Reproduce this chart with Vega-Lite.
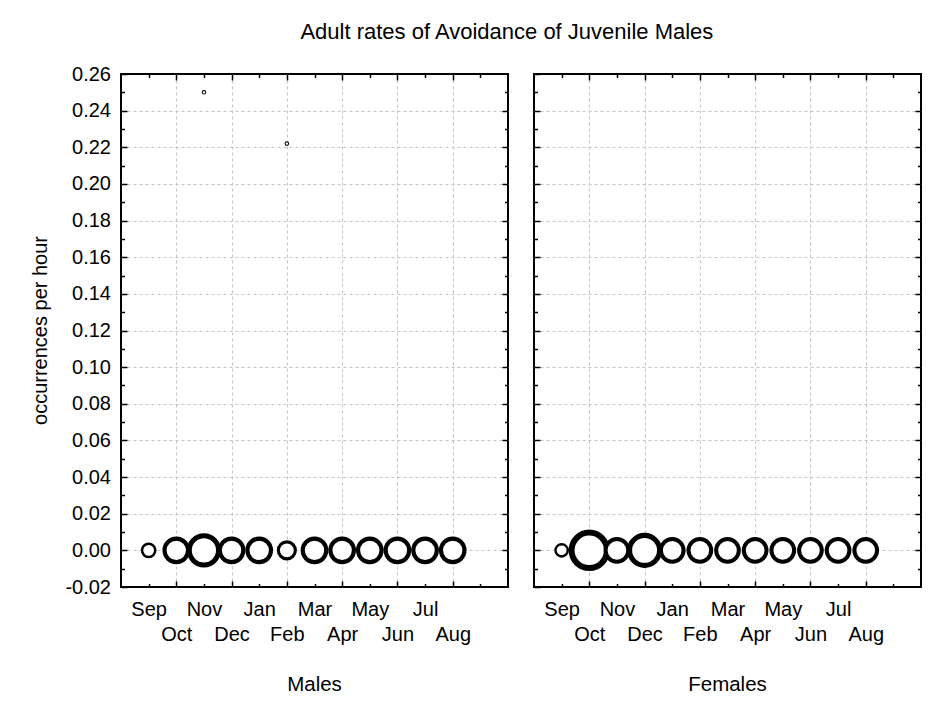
{
  "$schema": "https://vega.github.io/schema/vega-lite/v6.json",
  "background": "white",
  "padding": {"left": 29, "top": 21, "right": 10, "bottom": 5},
  "title": {
    "text": "Adult rates of Avoidance of Juvenile Males",
    "fontSize": 22,
    "fontWeight": "normal",
    "font": "Liberation Sans",
    "color": "black",
    "anchor": "middle",
    "frame": "bounds",
    "dx": 31,
    "offset": 19
  },
  "config": {
    "font": "Liberation Sans",
    "view": {"stroke": "black", "strokeWidth": 2},
    "axis": {
      "domain": false,
      "tickColor": "black",
      "tickWidth": 1.5,
      "labelFont": "Liberation Sans",
      "labelFontSize": 20,
      "labelColor": "black",
      "titleFont": "Liberation Sans",
      "titleFontSize": 20,
      "titleFontWeight": "normal",
      "titleColor": "black",
      "gridColor": "#c4c4c4",
      "gridDash": [3, 3],
      "gridWidth": 1
    },
    "title": {"font": "Liberation Sans", "fontSize": 20.5, "fontWeight": "normal", "color": "black"}
  },
  "data": {
    "values": [
      {"sex": "Males", "month": "Sep", "idx": 1, "rate": 0, "n": 14},
      {"sex": "Males", "month": "Oct", "idx": 2, "rate": 0, "n": 44},
      {"sex": "Males", "month": "Nov", "idx": 3, "rate": 0, "n": 68},
      {"sex": "Males", "month": "Dec", "idx": 4, "rate": 0, "n": 44},
      {"sex": "Males", "month": "Jan", "idx": 5, "rate": 0, "n": 44},
      {"sex": "Males", "month": "Feb", "idx": 6, "rate": 0, "n": 23},
      {"sex": "Males", "month": "Mar", "idx": 7, "rate": 0, "n": 44},
      {"sex": "Males", "month": "Apr", "idx": 8, "rate": 0, "n": 44},
      {"sex": "Males", "month": "May", "idx": 9, "rate": 0, "n": 44},
      {"sex": "Males", "month": "Jun", "idx": 10, "rate": 0, "n": 44},
      {"sex": "Males", "month": "Jul", "idx": 11, "rate": 0, "n": 44},
      {"sex": "Males", "month": "Aug", "idx": 12, "rate": 0, "n": 44},
      {"sex": "Males", "month": "Nov", "idx": 3, "rate": 0.25, "n": 1},
      {"sex": "Males", "month": "Feb", "idx": 6, "rate": 0.222, "n": 1},
      {"sex": "Females", "month": "Sep", "idx": 1, "rate": 0, "n": 12},
      {"sex": "Females", "month": "Oct", "idx": 2, "rate": 0, "n": 100},
      {"sex": "Females", "month": "Nov", "idx": 3, "rate": 0, "n": 41},
      {"sex": "Females", "month": "Dec", "idx": 4, "rate": 0, "n": 72},
      {"sex": "Females", "month": "Jan", "idx": 5, "rate": 0, "n": 41},
      {"sex": "Females", "month": "Feb", "idx": 6, "rate": 0, "n": 41},
      {"sex": "Females", "month": "Mar", "idx": 7, "rate": 0, "n": 41},
      {"sex": "Females", "month": "Apr", "idx": 8, "rate": 0, "n": 41},
      {"sex": "Females", "month": "May", "idx": 9, "rate": 0, "n": 41},
      {"sex": "Females", "month": "Jun", "idx": 10, "rate": 0, "n": 41},
      {"sex": "Females", "month": "Jul", "idx": 11, "rate": 0, "n": 41},
      {"sex": "Females", "month": "Aug", "idx": 12, "rate": 0, "n": 41}
    ]
  },
  "spacing": 26,
  "bounds": "flush",
  "hconcat": [
    {
      "width": 387,
      "height": 513,
      "title": {"text": "Males", "orient": "bottom", "offset": 30},
      "transform": [{"filter": "datum.sex === 'Males'"}],
      "resolve": {"axis": {"x": "independent", "y": "independent"}},
      "layer": [
        {
          "mark": {"type": "point", "shape": "circle", "filled": false, "fill": "white", "fillOpacity": 1, "stroke": "black", "opacity": 1},
          "encoding": {
            "x": {"field": "idx", "type": "quantitative", "scale": {"domain": [0, 14], "nice": false, "zero": false},
              "axis": {"orient": "bottom", "values": [2, 4, 6, 8, 10, 12], "grid": true, "tickSize": -6, "labelPadding": 43.5, "title": null,
                "labelExpr": "['','Sep','Oct','Nov','Dec','Jan','Feb','Mar','Apr','May','Jun','Jul','Aug',''][datum.value]"}},
            "y": {"field": "rate", "type": "quantitative", "scale": {"domain": [-0.02, 0.26], "nice": false, "zero": false},
              "axis": {"orient": "left", "values": [-0.02, 0, 0.02, 0.04, 0.06, 0.08, 0.1, 0.12, 0.14, 0.16, 0.18, 0.2, 0.22, 0.24, 0.26], "grid": false, "tickSize": -6, "labelPadding": 16.5,
                "labelExpr": "replace(format(datum.value, '.2f'), '\u2212', '-')",
                "title": "occurrences per hour", "titleX": -81, "titleY": 256, "titleBaseline": "middle", "titleAngle": -90}},
            "size": {"field": "n", "type": "quantitative", "scale": {"type": "linear", "domain": [0, 100], "range": [0, 1257]}, "legend": null},
            "strokeWidth": {"field": "n", "type": "quantitative", "scale": {"type": "sqrt", "domain": [0, 100], "range": [0.5, 6]}, "legend": null}
          }
        },
        {
          "mark": {"type": "point", "opacity": 0},
          "encoding": {
            "x": {"field": "idx", "type": "quantitative", "scale": {"domain": [0, 14], "nice": false, "zero": false},
              "axis": {"orient": "bottom", "values": [1, 3, 5, 7, 9, 11, 13], "grid": false, "tickSize": -3.5, "labelPadding": 16, "title": null,
                "labelExpr": "['','Sep','Oct','Nov','Dec','Jan','Feb','Mar','Apr','May','Jun','Jul','Aug',''][datum.value]"}},
            "y": {"field": "rate", "type": "quantitative", "scale": {"domain": [-0.02, 0.26], "nice": false, "zero": false},
              "axis": {"orient": "left", "values": [-0.01, 0.01, 0.03, 0.05, 0.07, 0.09, 0.11, 0.13, 0.15, 0.17, 0.19, 0.21, 0.23, 0.25], "grid": false, "tickSize": -3.5, "labels": false, "title": null}}
          }
        },
        {
          "mark": {"type": "point", "opacity": 0},
          "encoding": {
            "x": {"field": "idx", "type": "quantitative", "scale": {"domain": [0, 14], "nice": false, "zero": false},
              "axis": {"orient": "top", "values": [2, 4, 6, 8, 10, 12], "grid": false, "tickSize": -6, "labels": false, "title": null}},
            "y": {"field": "rate", "type": "quantitative", "scale": {"domain": [-0.02, 0.26], "nice": false, "zero": false},
              "axis": {"orient": "right", "values": [0, 0.02, 0.04, 0.06, 0.08, 0.1, 0.12, 0.14, 0.16, 0.18, 0.2, 0.22, 0.24], "grid": true, "tickSize": -6, "labels": false, "title": null}}
          }
        },
        {
          "mark": {"type": "point", "opacity": 0},
          "encoding": {
            "x": {"field": "idx", "type": "quantitative", "scale": {"domain": [0, 14], "nice": false, "zero": false},
              "axis": {"orient": "top", "values": [1, 3, 5, 7, 9, 11, 13], "grid": false, "tickSize": -3.5, "labels": false, "title": null}},
            "y": {"field": "rate", "type": "quantitative", "scale": {"domain": [-0.02, 0.26], "nice": false, "zero": false},
              "axis": {"orient": "right", "values": [-0.01, 0.01, 0.03, 0.05, 0.07, 0.09, 0.11, 0.13, 0.15, 0.17, 0.19, 0.21, 0.23, 0.25], "grid": false, "tickSize": -3.5, "labels": false, "title": null}}
          }
        }
      ]
    },
    {
      "width": 387,
      "height": 513,
      "title": {"text": "Females", "orient": "bottom", "offset": 30},
      "transform": [{"filter": "datum.sex === 'Females'"}],
      "resolve": {"axis": {"x": "independent", "y": "independent"}},
      "layer": [
        {
          "mark": {"type": "point", "shape": "circle", "filled": false, "fill": "white", "fillOpacity": 1, "stroke": "black", "opacity": 1},
          "encoding": {
            "x": {"field": "idx", "type": "quantitative", "scale": {"domain": [0, 14], "nice": false, "zero": false},
              "axis": {"orient": "bottom", "values": [2, 4, 6, 8, 10, 12], "grid": true, "tickSize": -6, "labelPadding": 43.5, "title": null,
                "labelExpr": "['','Sep','Oct','Nov','Dec','Jan','Feb','Mar','Apr','May','Jun','Jul','Aug',''][datum.value]"}},
            "y": {"field": "rate", "type": "quantitative", "scale": {"domain": [-0.02, 0.26], "nice": false, "zero": false},
              "axis": {"orient": "left", "values": [-0.02, 0, 0.02, 0.04, 0.06, 0.08, 0.1, 0.12, 0.14, 0.16, 0.18, 0.2, 0.22, 0.24, 0.26], "grid": false, "tickSize": -6, "labels": false, "title": null}},
            "size": {"field": "n", "type": "quantitative", "scale": {"type": "linear", "domain": [0, 100], "range": [0, 1257]}, "legend": null},
            "strokeWidth": {"field": "n", "type": "quantitative", "scale": {"type": "sqrt", "domain": [0, 100], "range": [0.5, 6]}, "legend": null}
          }
        },
        {
          "mark": {"type": "point", "opacity": 0},
          "encoding": {
            "x": {"field": "idx", "type": "quantitative", "scale": {"domain": [0, 14], "nice": false, "zero": false},
              "axis": {"orient": "bottom", "values": [1, 3, 5, 7, 9, 11, 13], "grid": false, "tickSize": -3.5, "labelPadding": 16, "title": null,
                "labelExpr": "['','Sep','Oct','Nov','Dec','Jan','Feb','Mar','Apr','May','Jun','Jul','Aug',''][datum.value]"}},
            "y": {"field": "rate", "type": "quantitative", "scale": {"domain": [-0.02, 0.26], "nice": false, "zero": false},
              "axis": {"orient": "left", "values": [-0.01, 0.01, 0.03, 0.05, 0.07, 0.09, 0.11, 0.13, 0.15, 0.17, 0.19, 0.21, 0.23, 0.25], "grid": false, "tickSize": -3.5, "labels": false, "title": null}}
          }
        },
        {
          "mark": {"type": "point", "opacity": 0},
          "encoding": {
            "x": {"field": "idx", "type": "quantitative", "scale": {"domain": [0, 14], "nice": false, "zero": false},
              "axis": {"orient": "top", "values": [2, 4, 6, 8, 10, 12], "grid": false, "tickSize": -6, "labels": false, "title": null}},
            "y": {"field": "rate", "type": "quantitative", "scale": {"domain": [-0.02, 0.26], "nice": false, "zero": false},
              "axis": {"orient": "right", "values": [0, 0.02, 0.04, 0.06, 0.08, 0.1, 0.12, 0.14, 0.16, 0.18, 0.2, 0.22, 0.24], "grid": true, "tickSize": -6, "labels": false, "title": null}}
          }
        },
        {
          "mark": {"type": "point", "opacity": 0},
          "encoding": {
            "x": {"field": "idx", "type": "quantitative", "scale": {"domain": [0, 14], "nice": false, "zero": false},
              "axis": {"orient": "top", "values": [1, 3, 5, 7, 9, 11, 13], "grid": false, "tickSize": -3.5, "labels": false, "title": null}},
            "y": {"field": "rate", "type": "quantitative", "scale": {"domain": [-0.02, 0.26], "nice": false, "zero": false},
              "axis": {"orient": "right", "values": [-0.01, 0.01, 0.03, 0.05, 0.07, 0.09, 0.11, 0.13, 0.15, 0.17, 0.19, 0.21, 0.23, 0.25], "grid": false, "tickSize": -3.5, "labels": false, "title": null}}
          }
        }
      ]
    }
  ]
}
